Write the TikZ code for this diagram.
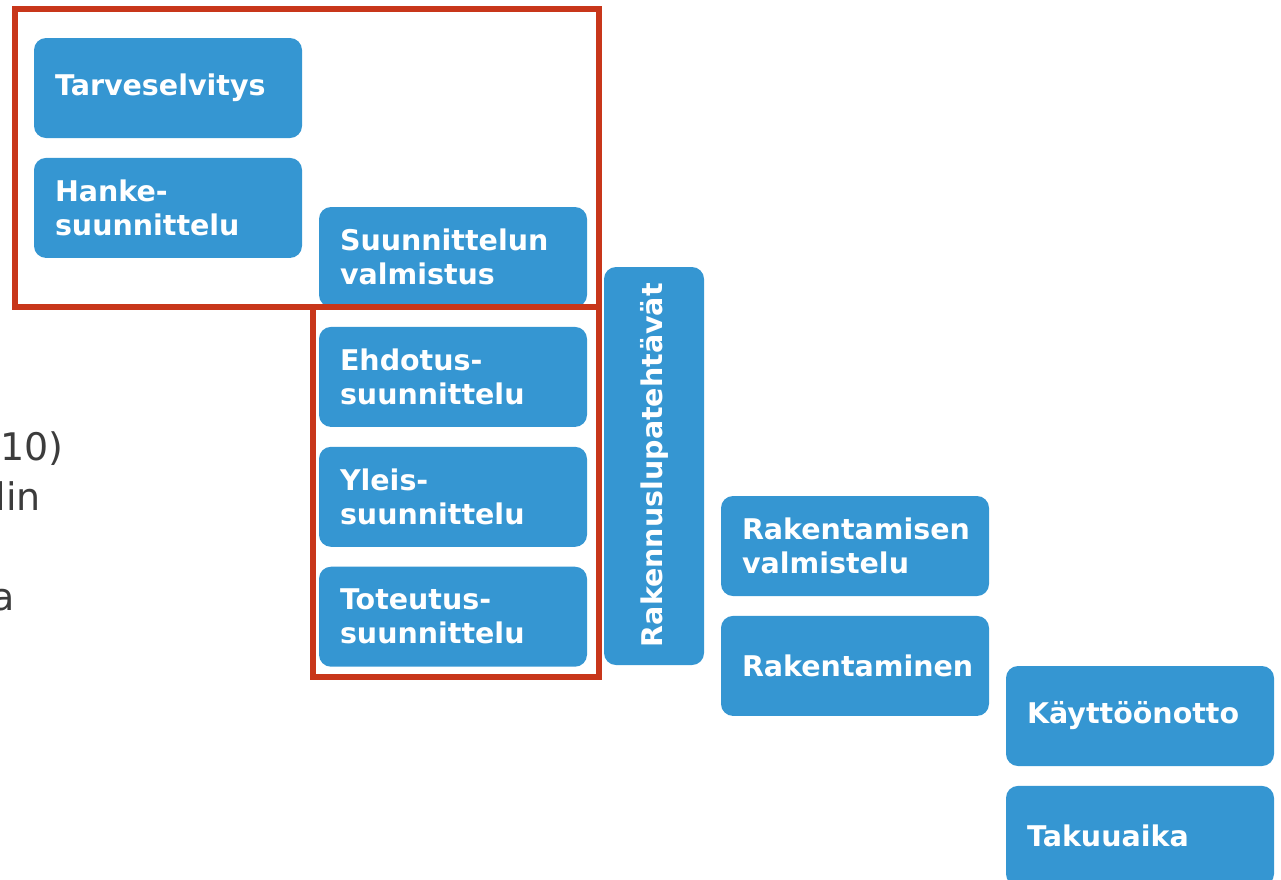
\documentclass[tikz,border=0pt]{standalone}
\usepackage{fontspec}
\setmainfont{DejaVu Sans}
\usetikzlibrary{positioning}

\definecolor{phaseblue}{RGB}{53,150,210}
\definecolor{framered}{RGB}{200,54,26}
\definecolor{notegray}{RGB}{60,60,60}

\begin{document}
\begin{tikzpicture}[x=1pt, y=-1pt, node distance=19.5pt]

\tikzstyle{phase}=[fill=phaseblue, rounded corners=12pt, text=white,
font=\fontsize{28.5}{34}\selectfont\bfseries, align=left, text width=226pt,
inner xsep=21pt, inner ysep=0pt, minimum height=100pt]
\tikzstyle{permit}=[phase, rotate=90, text width=362pt, inner xsep=18pt]
\tikzstyle{frame}=[draw=framered, line width=6pt]
\tikzstyle{note}=[text=notegray, font=\fontsize{38}{46}\selectfont,
anchor=base east, inner sep=0pt]

\useasboundingbox (0,0) rectangle (1281,879);
\clip (0,0) rectangle (1281,879);

% text cut off at the left edge
\node[note] (year) at (64,460) {10)};
\node[note] (lin) at (41,510) {lin};
\node[note] (lasta) at (15,610) {a};

% project phases
\node[phase] (tarve) at (168,88) {Tarveselvitys};
\node[phase, below=of tarve] (hanke) {Hanke-\\suunnittelu};

\node[phase] (valmistus) at (453,257) {Suunnittelun\\valmistus};
\node[phase, below=of valmistus] (ehdotus) {Ehdotus-\\suunnittelu};
\node[phase, below=of ehdotus] (yleis) {Yleis-\\suunnittelu};
\node[phase, below=of yleis] (toteutus) {Toteutus-\\suunnittelu};

\node[permit] (lupa) at (654,466) {Rakennuslupatehtävät};

\node[phase] (rakval) at (855,546) {Rakentamisen\\valmistelu};
\node[phase, below=of rakval] (rakentaminen) {Rakentaminen};

\node[phase] (kaytto) at (1140,716) {Käyttöönotto};
\node[phase, below=of kaytto] (takuu) {Takuuaika};

% red frames
\draw[frame] (15,9) rectangle (599,307);
\draw[frame] (313,307) rectangle (599,677);

\end{tikzpicture}
\end{document}
